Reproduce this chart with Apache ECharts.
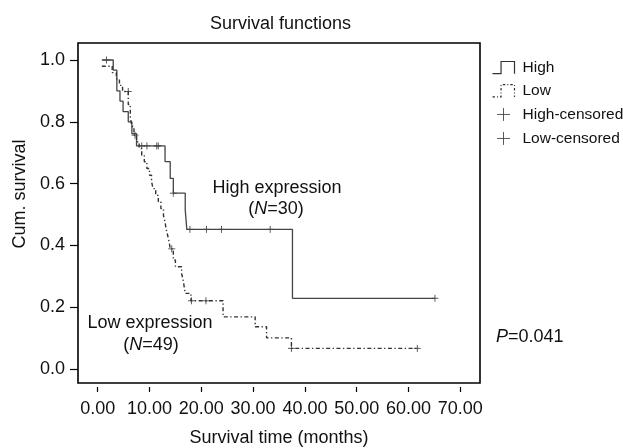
<!DOCTYPE html>
<html>
<head>
<meta charset="utf-8">
<script src="https://cdn.jsdelivr.net/npm/echarts@6/dist/echarts.min.js"></script>
<style>html,body{margin:0;padding:0;background:#fff}#main{width:623px;height:448px}</style>
</head>
<body>
<div id="main"></div>
<script>
// survival data (months, cum. survival)
var highTime = [0.8, 3.0, 3.7, 4.3, 4.9, 5.9, 6.6, 7.5, 13.0, 14.0, 14.6, 16.9, 17.2, 37.6, 65.1];
var highSurv = [1.0, 0.967, 0.9, 0.867, 0.833, 0.8, 0.762, 0.722, 0.671, 0.617, 0.569, 0.515, 0.452, 0.229, 0.229];
var lowTime = [0.8, 2.8, 3.6, 4.2, 4.8, 5.9, 6.3, 6.6, 7.0, 7.5, 8.0, 8.5, 9.0, 9.5, 10.0, 10.4, 10.7, 11.2, 11.7, 12.2,
    12.7, 13.0, 13.2, 13.5, 13.8, 14.0, 14.6, 15.0, 16.2, 16.5, 16.7, 16.9, 18.0, 24.2, 30.4, 32.6, 37.4, 61.7];
var lowSurv = [0.98, 0.959, 0.939, 0.918, 0.898, 0.856, 0.814, 0.785, 0.757, 0.735, 0.714, 0.692, 0.671, 0.649, 0.627, 0.606, 0.584, 0.562, 0.541, 0.519,
    0.497, 0.476, 0.454, 0.433, 0.411, 0.389, 0.353, 0.331, 0.309, 0.288, 0.266, 0.245, 0.221, 0.169, 0.137, 0.101, 0.067, 0.067];
// censored cases
var highCensTime = [1.7, 8.5, 9.5, 11.4, 11.7, 14.6, 17.8, 21.0, 23.9, 33.3, 65.1];
var highCensSurv = [1.0, 0.722, 0.722, 0.722, 0.722, 0.569, 0.452, 0.452, 0.452, 0.452, 0.229];
var lowCensTime = [5.9, 7.2, 14.3, 18.1, 20.9, 37.4, 61.7];
var lowCensSurv = [0.898, 0.757, 0.389, 0.221, 0.221, 0.067, 0.067];

var xTicks = [0, 10, 20, 30, 40, 50, 60, 70];
var yTicks = [0, 0.2, 0.4, 0.6, 0.8, 1.0];
var names = ['High', 'Low', 'High-censored', 'Low-censored'];

var FONT = 'Liberation Sans, Arial, sans-serif';
var INK = '#333';
var LOW_DASH = [4, 2.5, 1.3, 2.5];
var STEP_ICON = 'path://M0,10L7,10L7,0L18,0L18,10';
var PLUS = 'path://M0,5L10,5M5,0L5,10';

function pairs(xs, ys) {
    var out = [];
    for (var i = 0; i < xs.length; i++) out.push([xs[i], ys[i]]);
    return out;
}

var myChart = echarts.init(document.getElementById('main'));
myChart.setOption({
    animation: false,
    backgroundColor: '#fff',
    title: {
        text: 'Survival functions',
        left: 210,
        top: 15,
        padding: 0,
        textStyle: {fontFamily: FONT, fontSize: 18, fontWeight: 'normal', color: '#111'}
    },
    legend: {
        orient: 'vertical',
        left: 490,
        top: 59,
        padding: 0,
        itemWidth: 22,
        itemHeight: 13,
        itemGap: 6,
        textStyle: {fontFamily: FONT, fontSize: 15.5, color: '#111', lineHeight: 16, padding: [0, 0, 0, 3]},
        data: [
            {name: names[0], icon: STEP_ICON, itemStyle: {color: 'none', borderColor: INK, borderWidth: 1.2}},
            {name: names[1], icon: STEP_ICON, itemStyle: {color: 'none', borderColor: INK, borderWidth: 1.2, borderType: [2.5, 2, 1, 2]}},
            {name: names[2], icon: PLUS, itemStyle: {color: 'none', borderColor: INK, borderWidth: 1}},
            {name: names[3], icon: PLUS, itemStyle: {color: 'none', borderColor: INK, borderWidth: 1}}
        ]
    },
    grid: {
        left: 78, right: 143, top: 43, bottom: 65,
        outerBoundsMode: 'none',
        show: true,
        borderColor: '#000',
        borderWidth: 1.6,
        backgroundColor: 'transparent'
    },
    xAxis: {
        type: 'value',
        min: -3.8,
        max: 73.8,
        offset: 4,
        name: 'Survival time (months)',
        nameLocation: 'middle',
        nameGap: 42,
        nameTextStyle: {fontFamily: FONT, fontSize: 18, color: '#111'},
        axisLine: {show: false, onZero: false},
        axisTick: {show: true, length: 5, customValues: xTicks, lineStyle: {color: '#000', width: 1.2}},
        axisLabel: {
            customValues: xTicks, margin: 13,
            fontFamily: FONT, fontSize: 18, color: '#111',
            formatter: function (v) { return v.toFixed(2); }
        },
        splitLine: {show: false}
    },
    yAxis: {
        type: 'value',
        min: -0.045,
        max: 1.055,
        axisLine: {show: false, onZero: false},
        axisTick: {show: true, length: 8, customValues: yTicks, lineStyle: {color: '#000', width: 1.2}},
        axisLabel: {
            customValues: yTicks, margin: 13,
            fontFamily: FONT, fontSize: 18, color: '#111',
            formatter: function (v) { return v.toFixed(1); }
        },
        splitLine: {show: false}
    },
    graphic: [
        {type: 'text', x: 20, y: 194, rotation: Math.PI / 2,
            style: {text: 'Cum. survival', fontFamily: FONT, fontSize: 18, fill: '#111', align: 'center', verticalAlign: 'middle'}},
        {type: 'text', x: 277, y: 188,
            style: {text: 'High expression', fontFamily: FONT, fontSize: 18, fill: '#111', align: 'center', verticalAlign: 'middle'}},
        {type: 'text', x: 276, y: 209,
            style: {text: '({n|N}=30)', fontFamily: FONT, fontSize: 18, fill: '#111', align: 'center', verticalAlign: 'middle',
                rich: {n: {fontFamily: FONT, fontSize: 18, fontStyle: 'italic', fill: '#111'}}}},
        {type: 'text', x: 150, y: 323,
            style: {text: 'Low expression', fontFamily: FONT, fontSize: 18, fill: '#111', align: 'center', verticalAlign: 'middle'}},
        {type: 'text', x: 151, y: 345,
            style: {text: '({n|N}=49)', fontFamily: FONT, fontSize: 18, fill: '#111', align: 'center', verticalAlign: 'middle',
                rich: {n: {fontFamily: FONT, fontSize: 18, fontStyle: 'italic', fill: '#111'}}}},
        {type: 'text', x: 496, y: 337,
            style: {text: '{p|P}=0.041', fontFamily: FONT, fontSize: 18, fill: '#111', align: 'left', verticalAlign: 'middle',
                rich: {p: {fontFamily: FONT, fontSize: 18, fontStyle: 'italic', fill: '#111'}}}}
    ],
    series: [
        {
            name: names[0], type: 'line', step: 'end', symbol: 'none',
            lineStyle: {color: '#444', width: 1.3},
            itemStyle: {color: '#444'},
            data: pairs(highTime, highSurv)
        },
        {
            name: names[1], type: 'line', step: 'end', symbol: 'none',
            lineStyle: {color: INK, width: 1.4, type: LOW_DASH},
            itemStyle: {color: INK},
            data: pairs(lowTime, lowSurv)
        },
        {
            name: names[2], type: 'scatter', symbol: PLUS, symbolSize: 7,
            itemStyle: {color: 'none', borderColor: INK, borderWidth: 1},
            data: pairs(highCensTime, highCensSurv)
        },
        {
            name: names[3], type: 'scatter', symbol: PLUS, symbolSize: 7,
            itemStyle: {color: 'none', borderColor: INK, borderWidth: 1},
            data: pairs(lowCensTime, lowCensSurv)
        }
    ]
});
</script>
</body>
</html>
